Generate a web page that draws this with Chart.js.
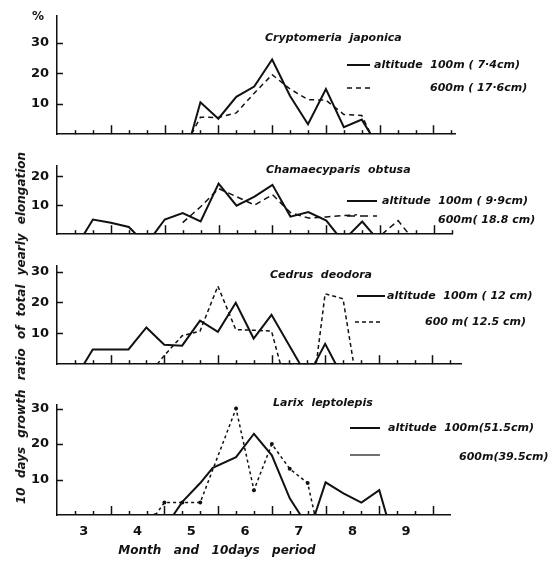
<!DOCTYPE html>
<html>
<head>
<meta charset="UTF-8">
<title>10 days growth ratio</title>
<script src="https://cdn.jsdelivr.net/npm/chart.js"></script>
<style>
    body { margin:0; padding:0; background:#fff; }
    #page { position:relative; width:558px; height:565px; overflow:hidden; background:#fff; }
    .panel { position:absolute; left:0; }
    #ytitle {
        position:absolute; left:21px; top:328px;
        transform:translate(-50%,-50%) rotate(-90deg);
        white-space:nowrap; color:#111;
        font:bold italic 12px "DejaVu Sans";
        word-spacing:5px;
    }
</style>
</head>
<body>
<div id="page">
    <canvas id="c1" class="panel" width="558" height="150" style="top:0px"></canvas>
    <canvas id="c2" class="panel" width="558" height="100" style="top:150px"></canvas>
    <canvas id="c3" class="panel" width="558" height="130" style="top:250px"></canvas>
    <canvas id="c4" class="panel" width="558" height="185" style="top:380px"></canvas>
    <div id="ytitle">10 days growth ratio of total yearly elongation</div>
</div>

<script type="text/javascript">
// x = 10-day period counted from 1 March (3 = 1 April, 6 = 1 May, ...)
var monthLabels = ['3', '4', '5', '6', '7', '8', '9'];
var monthCentres = [1.5, 4.5, 7.5, 10.5, 13.5, 16.5, 19.5];

// Cryptomeria japonica
var cryX100 = [7.5, 8, 9, 10, 11, 12, 13, 14, 15, 16, 17, 17.5];
var cryY100 = [0, 10.5, 5.1, 12.3, 15.7, 24.6, 12.6, 3.3, 14.9, 2.3, 4.8, 0];
var cryX600 = [7.5, 8, 9, 10, 11, 12, 13, 14, 15, 16, 17, 17.5];
var cryY600 = [0, 5.6, 5.5, 7, 13.5, 19.6, 14.9, 11.4, 11.2, 6.5, 6.2, 0];

// Chamaecyparis obtusa
var chaX100 = [1.5, 2, 3, 4, 4.4, 5.4, 6, 7, 8, 9, 10, 11, 12, 13, 14, 15, 15.6, 16.3, 17, 17.6];
var chaY100 = [0, 5.1, 4, 2.5, 0, 0, 5.1, 7.3, 4.4, 17.5, 9.9, 13, 17.1, 6.1, 7.7, 4.7, 0, 0, 4.4, 0];
var chaX600 = [7, 8, 9, 10, 11, 12, 13, 14, 15, 16, 16.7, 17.4, 18.1, 19, 19.6];
var chaY600 = [4, 9.5, 15.8, 13, 10.1, 13.7, 7.5, 5.6, 6, 6.5, 6.7, null, 0, 4.7, 0];

// Cedrus deodora
var cedX100 = [1.5, 2, 3, 4, 5, 6, 7, 8, 9, 10, 11, 12, 13.6, 14.4, 15, 15.6];
var cedY100 = [0, 4.8, 4.8, 4.8, 11.9, 6.3, 6, 14.1, 10.5, 19.9, 8.3, 16, 0, 0, 6.6, 0];
var cedX600 = [5.6, 6, 7, 8, 9, 10, 11, 12, 12.5, 14.5, 15, 16, 16.6];
var cedY600 = [0, 2.8, 9.2, 10.7, 25.3, 11.2, 11, 10.7, 0, 0, 22.8, 21.2, 0];

// Larix leptolepis
var larX100 = [6.5, 7, 8, 8.7, 10, 11, 12, 13, 13.6, 14.4, 15, 16, 17, 18, 18.4];
var larY100 = [0, 3.7, 9, 13.3, 16.3, 22.9, 16.8, 4.7, 0, 0, 9.2, 6.1, 3.5, 7, 0];
var larX600 = [5.5, 6, 7, 8, 10, 11, 12, 13, 14, 14.4];
var larY600 = [0, 3.5, 3.5, 3.5, 30, 7, 20, 13, 9, 0];

var INK = '#111';
var numFont = { family: 'DejaVu Sans', size: 13, weight: 'bold' };

function pairs(xs, ys) {
    return xs.map(function (x, i) { return { x: x, y: ys[i] }; });
}

// inside ticks, titles and the hand-placed legends of each panel
var panelDeco = {
    id: 'panelDeco',
    afterDraw: function (chart, args, o) {
        var ctx = chart.ctx, xs = chart.scales.x, ys = chart.scales.y;
        var area = chart.chartArea;
        ctx.save();
        ctx.strokeStyle = INK;
        ctx.fillStyle = INK;
        ctx.lineWidth = 1.5;

        for (var u = 1; u <= xs.max; u++) {
            var px = Math.round(xs.getPixelForValue(u)) + 0.5;
            var h = (u % 3 === 0) ? 9 : 4;
            ctx.beginPath();
            ctx.moveTo(px, area.bottom);
            ctx.lineTo(px, area.bottom - h);
            ctx.stroke();
        }
        o.yTicks.forEach(function (v) {
            var py = Math.round(ys.getPixelForValue(v)) + 0.5;
            ctx.beginPath();
            ctx.moveTo(area.left, py);
            ctx.lineTo(area.left + 6, py);
            ctx.stroke();
        });

        ctx.textBaseline = 'middle';
        ctx.textAlign = 'left';
        ctx.font = 'bold italic 11px "DejaVu Sans"';
        ctx.fillText(o.title[0], o.title[1], o.title[2]);

        o.legend.forEach(function (l) {
            ctx.setLineDash(l.dash);
            ctx.lineWidth = l.width;
            ctx.beginPath();
            ctx.moveTo(l.x1, l.y);
            ctx.lineTo(l.x2, l.y);
            ctx.stroke();
            ctx.setLineDash([]);
            ctx.fillText(l.text, l.tx, l.ty);
        });

        (o.extra || []).forEach(function (t) {
            ctx.font = t.font;
            ctx.textAlign = 'center';
            ctx.fillText(t.text, t.x, t.y);
        });
        ctx.restore();
    }
};

function makePanel(id, p) {
    var ctx = document.getElementById(id).getContext('2d');
    return new Chart(ctx, {
        type: 'line',
        data: {
            datasets: [{
                data: pairs(p.x100, p.y100),
                borderColor: INK,
                borderWidth: 2,
                pointRadius: 0,
                tension: 0
            }, {
                data: pairs(p.x600, p.y600),
                borderColor: INK,
                borderWidth: 1.5,
                borderDash: p.dash,
                pointRadius: p.dots,
                pointBackgroundColor: INK,
                pointBorderWidth: 0,
                tension: 0
            }]
        },
        options: {
            responsive: false,
            animation: false,
            events: [],
            layout: { padding: { left: 0, right: p.right, top: p.top, bottom: p.bottom } },
            plugins: {
                legend: { display: false },
                tooltip: { enabled: false },
                panelDeco: { yTicks: p.yTicks, title: p.title, legend: p.legend, extra: p.extra }
            },
            scales: {
                x: {
                    type: 'linear',
                    min: 0,
                    max: p.xMax,
                    grid: { display: false, drawTicks: false },
                    border: { display: true, color: INK, width: 1.5 },
                    afterBuildTicks: function (axis) {
                        axis.ticks = monthCentres.map(function (v) { return { value: v }; });
                    },
                    afterFit: function (axis) { axis.height = p.xHeight; },
                    ticks: {
                        display: p.showX,
                        autoSkip: false,
                        maxRotation: 0,
                        padding: 9,
                        color: INK,
                        font: numFont,
                        callback: function (v, i) { return monthLabels[i]; }
                    }
                },
                y: {
                    min: 0,
                    max: p.yMax,
                    grid: { display: false, drawTicks: false },
                    border: { display: true, color: INK, width: 1.5 },
                    afterBuildTicks: function (axis) {
                        axis.ticks = p.yTicks.map(function (v) { return { value: v }; });
                    },
                    afterFit: function (axis) { axis.width = 57; },
                    ticks: { padding: 8, color: INK, font: numFont }
                }
            }
        },
        plugins: [panelDeco]
    });
}

makePanel('c1', {
    x100: cryX100, y100: cryY100, x600: cryX600, y600: cryY600,
    dash: [5, 4], dots: 0,
    top: 5, bottom: 5, right: 103, xMax: 22.2, yMax: 39, xHeight: 0, showX: false,
    yTicks: [10, 20, 30],
    title: ['Cryptomeria  japonica', 265, 38],
    legend: [
        { x1: 347, x2: 370, y: 65, dash: [], width: 2, text: 'altitude  100m ( 7\u00b74cm)', tx: 374, ty: 65 },
        { x1: 347, x2: 370, y: 88, dash: [5, 4], width: 1.5, text: '600m ( 17\u00b76cm)', tx: 430, ty: 88 }
    ],
    extra: [{ text: '%', x: 38, y: 17, font: 'bold 12px "DejaVu Sans"' }]
});

makePanel('c2', {
    x100: chaX100, y100: chaY100, x600: chaX600, y600: chaY600,
    dash: [6, 4], dots: 0,
    top: 10, bottom: 7, right: 106, xMax: 22, yMax: 23.7, xHeight: 0, showX: false,
    yTicks: [10, 20],
    title: ['Chamaecyparis  obtusa', 266, 20],
    legend: [
        { x1: 347, x2: 377, y: 51, dash: [], width: 2, text: 'altitude  100m ( 9\u00b79cm)', tx: 382, ty: 51 },
        { x1: 347, x2: 377, y: 66, dash: [8, 5], width: 1.5, text: '600m( 18.8 cm)', tx: 438, ty: 70 }
    ]
});

makePanel('c3', {
    x100: cedX100, y100: cedY100, x600: cedX600, y600: cedY600,
    dash: [4, 3], dots: 0,
    top: 16, bottom: 5, right: 97, xMax: 22.6, yMax: 31.8, xHeight: 0, showX: false,
    yTicks: [10, 20, 30],
    title: ['Cedrus  deodora', 270, 25],
    legend: [
        { x1: 357, x2: 385, y: 46, dash: [], width: 2, text: 'altitude  100m ( 12 cm)', tx: 387, ty: 46 },
        { x1: 355, x2: 383, y: 72, dash: [4, 3], width: 1.5, text: '600 m( 12.5 cm)', tx: 425, ty: 72 }
    ]
});

makePanel('c4', {
    x100: larX100, y100: larY100, x600: larX600, y600: larY600,
    dash: [3, 3], dots: 2,
    top: 25, bottom: 5, right: 108, xMax: 21.95, yMax: 31, xHeight: 45, showX: true,
    yTicks: [10, 20, 30],
    title: ['Larix  leptolepis', 273, 23],
    legend: [
        { x1: 350, x2: 380, y: 48, dash: [], width: 2, text: 'altitude  100m(51.5cm)', tx: 388, ty: 48 },
        { x1: 350, x2: 380, y: 75, dash: [], width: 1.2, text: '600m(39.5cm)', tx: 459, ty: 77 }
    ],
    extra: [{ text: 'Month   and   10days   period', x: 217, y: 171, font: 'bold italic 12px "DejaVu Sans"' }]
});
</script>
</body>
</html>
